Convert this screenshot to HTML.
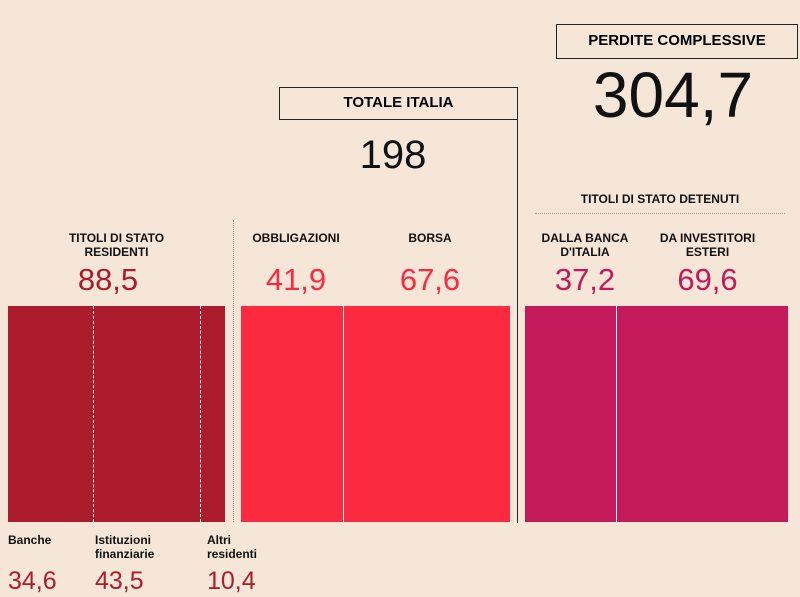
<!DOCTYPE html>
<html><head><meta charset="utf-8"><style>
body{margin:0;width:800px;height:597px;background:#f5e6d8;position:relative;overflow:hidden;font-family:"Liberation Sans",sans-serif}
.a{position:absolute}
.lbl{font-weight:bold;font-size:12px;line-height:14px;color:#111;text-align:center}
.val{font-size:31px;line-height:32px;text-align:center;font-weight:300}
.box{border:1.5px solid #222;box-sizing:border-box;font-weight:bold;font-size:15px;text-align:center}
</style></head><body>
<div class="a box" style="left:556px;top:24px;width:242px;height:35px;line-height:32px">PERDITE COMPLESSIVE</div>
<div class="a" style="left:560px;top:60px;width:226px;text-align:center;font-size:64px;line-height:70px;color:#111">304,7</div>
<div class="a box" style="left:279px;top:87px;width:239px;height:33px;line-height:30px">TOTALE ITALIA</div>
<div class="a" style="left:516.5px;top:87px;width:1.5px;height:436px;background:#222"></div>
<div class="a" style="left:280px;top:133px;width:226px;text-align:center;font-size:40px;line-height:44px;color:#111">198</div>
<div class="a lbl" style="left:535px;top:192px;width:250px">TITOLI DI STATO DETENUTI</div>
<div class="a" style="left:535px;top:213px;width:250px;border-top:1px dotted #999"></div>
<div class="a" style="left:233px;top:220px;height:302px;border-left:1px dotted #888"></div>

<div class="a lbl" style="left:8px;top:231px;width:217px">TITOLI DI STATO<br>RESIDENTI</div>
<div class="a val" style="left:8px;top:264px;width:200px;color:#ad1c2c">88,5</div>
<div class="a lbl" style="left:241px;top:231px;width:110px">OBBLIGAZIONI</div>
<div class="a val" style="left:241px;top:264px;width:110px;color:#fc2a3f">41,9</div>
<div class="a lbl" style="left:380px;top:231px;width:100px">BORSA</div>
<div class="a val" style="left:380px;top:264px;width:100px;color:#fc2a3f">67,6</div>
<div class="a lbl" style="left:520px;top:231px;width:130px">DALLA BANCA<br>D'ITALIA</div>
<div class="a val" style="left:520px;top:264px;width:130px;color:#c4195a">37,2</div>
<div class="a lbl" style="left:640px;top:231px;width:135px">DA INVESTITORI<br>ESTERI</div>
<div class="a val" style="left:640px;top:264px;width:135px;color:#c4195a">69,6</div>

<div class="a" style="left:8px;top:306px;width:217px;height:216px;background:#ad1c2c"></div>
<div class="a" style="left:93px;top:306px;height:216px;border-left:1px dashed #fff"></div>
<div class="a" style="left:200px;top:306px;height:216px;border-left:1px dashed #fff"></div>
<div class="a" style="left:241px;top:306px;width:269px;height:216px;background:#fc2a3f"></div>
<div class="a" style="left:343px;top:306px;width:1px;height:216px;background:#fff"></div>
<div class="a" style="left:525px;top:306px;width:263px;height:216px;background:#c4195a"></div>
<div class="a" style="left:616px;top:306px;width:1px;height:216px;background:#fff"></div>

<div class="a lbl" style="left:8px;top:533px;text-align:left">Banche</div>
<div class="a lbl" style="left:95px;top:533px;text-align:left">Istituzioni<br>finanziarie</div>
<div class="a lbl" style="left:207px;top:533px;text-align:left">Altri<br>residenti</div>
<div class="a val" style="left:8px;top:565px;text-align:left;font-size:25px;color:#ad1c2c">34,6</div>
<div class="a val" style="left:95px;top:565px;text-align:left;font-size:25px;color:#ad1c2c">43,5</div>
<div class="a val" style="left:207px;top:565px;text-align:left;font-size:25px;color:#ad1c2c">10,4</div>
</body></html>
